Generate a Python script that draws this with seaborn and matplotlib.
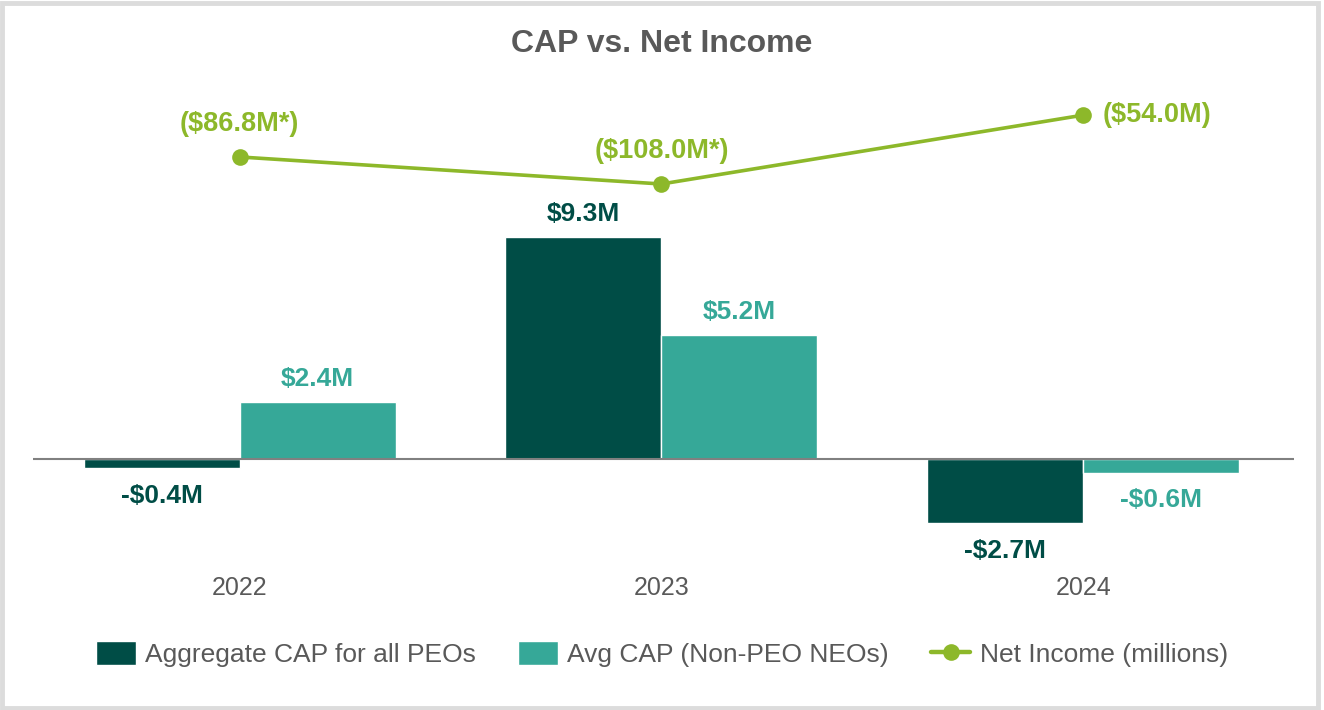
import numpy as np
import pandas as pd
import seaborn as sns
from matplotlib import pyplot as plt
from matplotlib.patches import Rectangle

# chart values (millions)
years = ["2022", "2023", "2024"]
peo_cap = [-0.4, 9.3, -2.7]
neo_cap = [2.4, 5.2, -0.6]
net_income = [-86.8, -108.0, -54.0]
net_income_labels = ["($86.8M*)", "($108.0M*)", "($54.0M)"]
series_names = ["Aggregate CAP for all PEOs", "Avg CAP (Non-PEO NEOs)"]
line_name = "Net Income (millions)"

dark = "#004D46"
light = "#36A898"
green = "#8DB82A"
grey = "#595959"

sns.set_style("white")
plt.rcParams["font.family"] = ["Liberation Sans", "DejaVu Sans"]

df = pd.DataFrame({
    "Year": years * 2,
    "Value": peo_cap + neo_cap,
    "Series": [series_names[0]] * 3 + [series_names[1]] * 3,
})

fig = plt.figure(figsize=(13.24, 7.1), dpi=100)
ax = fig.add_axes([33 / 1324, 170 / 710, 1261 / 1324, 470 / 710])

sns.barplot(data=df, x="Year", y="Value", hue="Series", palette=[dark, light],
            width=0.74, saturation=1, ax=ax, errorbar=None)
ax.set_xlim(-0.49, 2.5)
ax.set_ylim(-3.4, 16.3)
ax.axhline(0, color="#808080", lw=1.5, zorder=1)

# bar labels
for container, color in zip(ax.containers, [dark, light]):
    for bar in container:
        v = bar.get_height()
        xc = bar.get_x() + bar.get_width() / 2
        if v >= 0:
            ax.annotate(f"${v:.1f}M", (xc, v), xytext=(0, 8), textcoords="offset points",
                        ha="center", va="bottom", fontsize=19, fontweight="bold", color=color)
        else:
            ax.annotate(f"-${abs(v):.1f}M", (xc, v), xytext=(0, -11), textcoords="offset points",
                        ha="center", va="top", fontsize=19, fontweight="bold", color=color)

# net income line on a hidden second axis
ax2 = ax.twinx()
xpos = np.arange(len(years))
sns.lineplot(x=xpos, y=net_income, ax=ax2, color=green, lw=2.6, marker="o",
             markersize=12, markeredgewidth=0, label=line_name, legend=False)
ax2.set_ylim(-387.2, -18.6)
for i, (v, lab) in enumerate(zip(net_income, net_income_labels)):
    if i == len(years) - 1:
        ax2.annotate(lab, (i, v), xytext=(14, 0), textcoords="offset points",
                     ha="left", va="center", fontsize=19.5, fontweight="bold", color=green)
    else:
        ax2.annotate(lab, (i, v), xytext=(0, 24), textcoords="offset points",
                     ha="center", va="center", fontsize=19.5, fontweight="bold", color=green)

for a in (ax, ax2):
    for s in a.spines.values():
        s.set_visible(False)
    a.set_ylabel("")
    a.set_yticks([])
ax.set_xlabel("")
ax.tick_params(axis="x", length=0, labelsize=18, labelcolor=grey, pad=26)

h1, l1 = ax.get_legend_handles_labels()
h2, l2 = ax2.get_legend_handles_labels()
ax.get_legend().remove()
leg = fig.legend(h1 + h2, l1 + l2, loc="center", bbox_to_anchor=(0.5, 1 - 654 / 710), ncol=3,
                 frameon=False, fontsize=19, labelcolor=grey, handlelength=1.5, handleheight=1.0,
                 handletextpad=0.35, columnspacing=1.6)
leg.get_lines()[0].set_linewidth(3.2)

fig.text(0.5, 1 - 44 / 710, "CAP vs. Net Income", ha="center", va="center",
         fontsize=23, fontweight="bold", color=grey)

fig.patches.append(Rectangle((0.0015, 0.003), 0.994, 0.993, transform=fig.transFigure,
                             fill=False, edgecolor="#DCDCDC", lw=3.5))

fig.savefig("out.png", dpi=100)
